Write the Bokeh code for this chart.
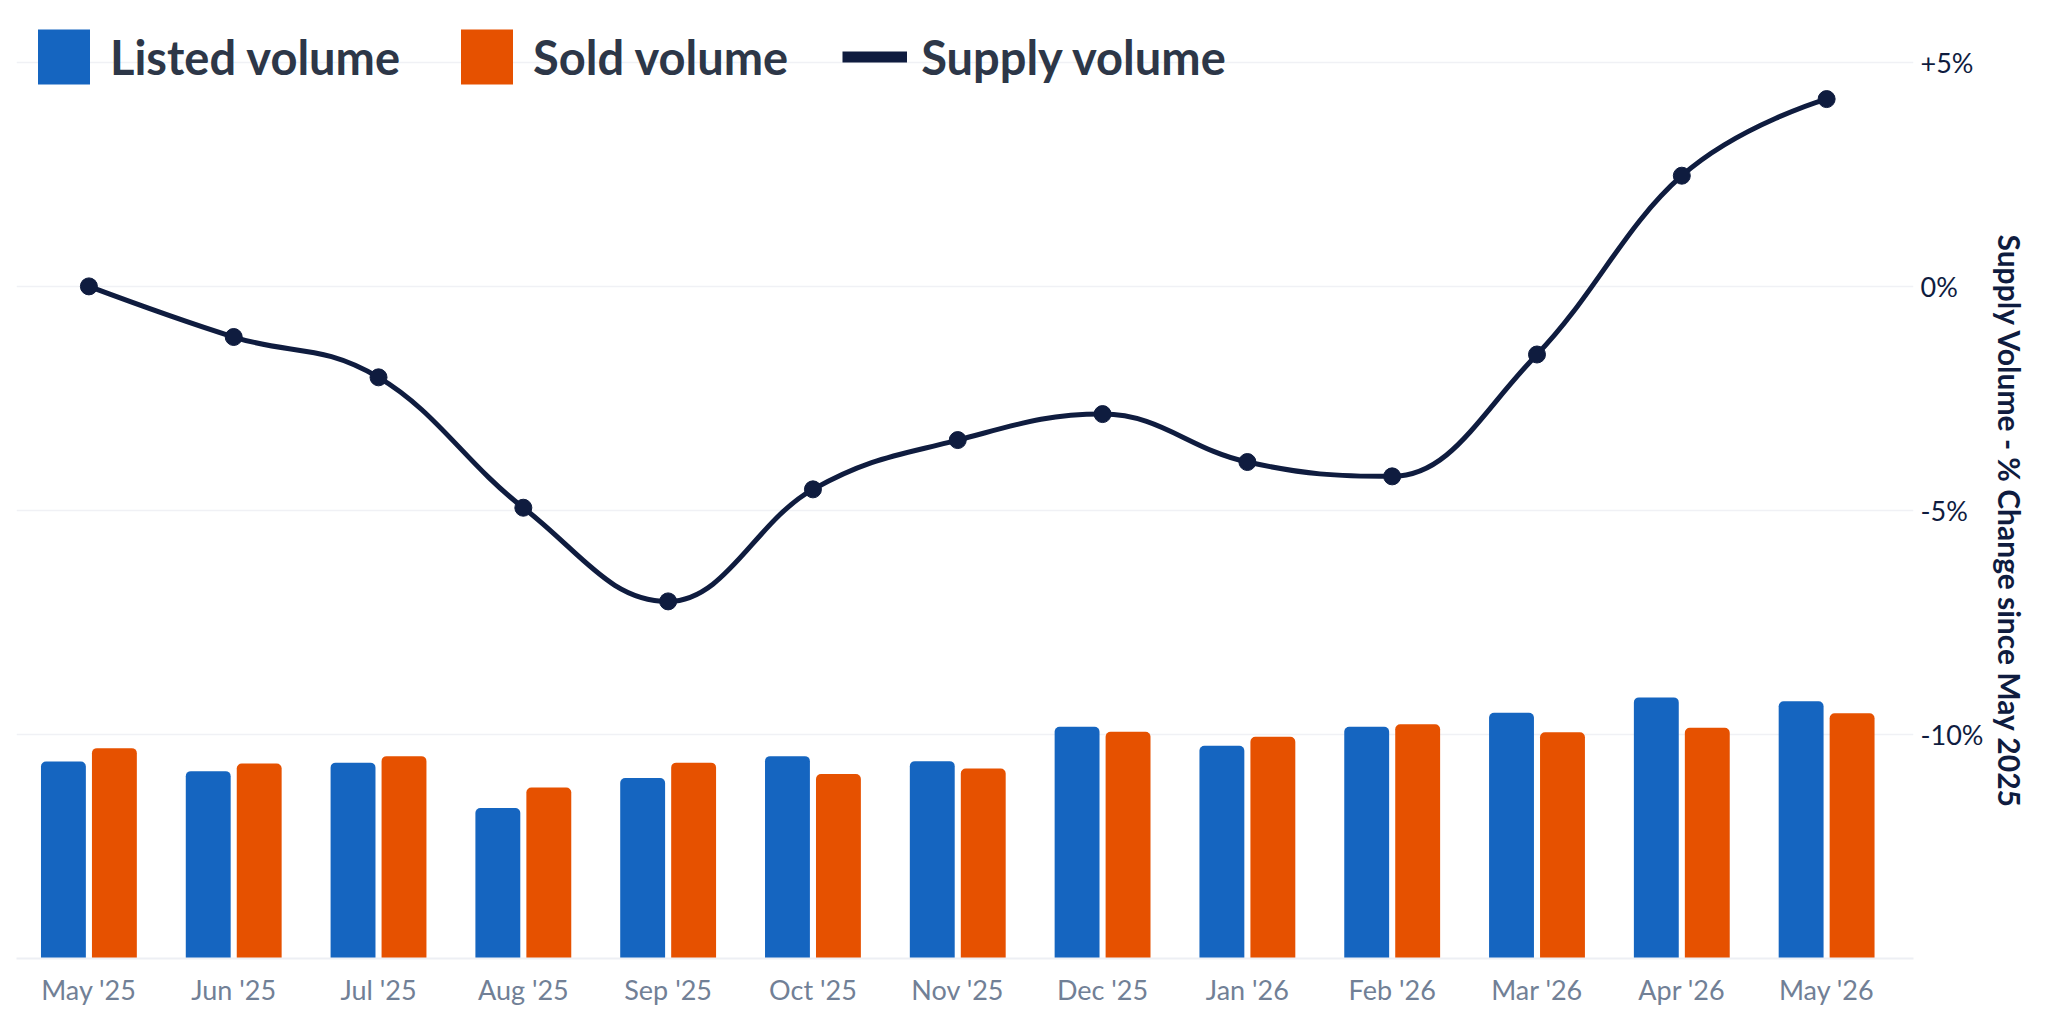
import numpy as np
from bokeh.plotting import figure
from bokeh.models import Range1d, FixedTicker, Legend, LegendItem, ColumnDataSource, Title
from bokeh.transform import dodge
from bokeh.embed import file_html
from bokeh.resources import INLINE

# ---- data ----
months = ["May '25", "Jun '25", "Jul '25", "Aug '25", "Sep '25", "Oct '25", "Nov '25",
          "Dec '25", "Jan '26", "Feb '26", "Mar '26", "Apr '26", "May '26"]
listed = [2090, 1989, 2079, 1598, 1915, 2148, 2095, 2460, 2259, 2460, 2608, 2772, 2730]
sold = [2233, 2069, 2148, 1815, 2079, 1958, 2016, 2407, 2354, 2487, 2402, 2450, 2603]
supply = [0.0, -1.13, -2.03, -4.94, -7.03, -4.53, -3.43, -2.85, -3.92, -4.24, -1.52, 2.47, 4.18]
y_ticks = [-10, -5, 0, 5]
y_tick_labels = ["-10%", "-5%", "0%", "+5%"]
axis_title = "Supply Volume - % Change since May 2025"

BLUE = "#1565C0"
ORANGE = "#E65100"
NAVY = "#0F1C3F"
FONT = "Lato"

xs = list(range(len(months)))

W, H = 2032, 1008
TOP, BOTTOM, LEFT, RIGHT = 16, 47, 16, 119

p = figure(width=W, height=H, output_backend="svg", toolbar_location=None,
           y_axis_location="right",
           x_range=Range1d(-0.5, 12.6), y_range=Range1d(-15, 6.023),
           min_border_left=LEFT, min_border_top=TOP, min_border_right=RIGHT,
           min_border_bottom=BOTTOM)
p.extra_y_ranges = {"bars": Range1d(0, 10000)}
p.outline_line_color = None
p.background_fill_color = "white"
p.border_fill_color = "white"

src = ColumnDataSource(dict(x=xs, listed=listed, sold=sold))
r_listed = p.vbar(x=dodge("x", -0.176), top="listed", width=0.31, source=src,
                  y_range_name="bars", fill_color=BLUE, line_color=None,
                  border_radius=(5, 5, 0, 0))
r_sold = p.vbar(x=dodge("x", 0.176), top="sold", width=0.31, source=src,
                y_range_name="bars", fill_color=ORANGE, line_color=None,
                border_radius=(5, 5, 0, 0))


def spline_segments(px_, py_, smoothing=1.5):
    denom = smoothing + 1
    n = len(px_)
    lc = [(px_[i], py_[i]) for i in range(n)]
    rc = [(px_[i], py_[i]) for i in range(n)]
    for i in range(1, n - 1):
        x, y = px_[i], py_[i]
        lx, ly = px_[i - 1], py_[i - 1]
        nx, ny = px_[i + 1], py_[i + 1]
        lcx = (smoothing * x + lx) / denom
        lcy = (smoothing * y + ly) / denom
        rcx = (smoothing * x + nx) / denom
        rcy = (smoothing * y + ny) / denom
        if rcx != lcx:
            corr = ((rcy - lcy) * (rcx - x)) / (rcx - lcx) + y - rcy
            lcy += corr
            rcy += corr
        if lcy > ly and lcy > y:
            lcy = max(ly, y); rcy = 2 * y - lcy
        elif lcy < ly and lcy < y:
            lcy = min(ly, y); rcy = 2 * y - lcy
        if rcy > ny and rcy > y:
            rcy = max(ny, y); lcy = 2 * y - rcy
        elif rcy < ny and rcy < y:
            rcy = min(ny, y); lcy = 2 * y - rcy
        lc[i] = (lcx, lcy)
        rc[i] = (rcx, rcy)
    seg = dict(x0=[], y0=[], x1=[], y1=[], cx0=[], cy0=[], cx1=[], cy1=[])
    for i in range(n - 1):
        seg["x0"].append(px_[i]); seg["y0"].append(py_[i])
        seg["x1"].append(px_[i + 1]); seg["y1"].append(py_[i + 1])
        seg["cx0"].append(rc[i][0]); seg["cy0"].append(rc[i][1])
        seg["cx1"].append(lc[i + 1][0]); seg["cy1"].append(lc[i + 1][1])
    return seg


seg = spline_segments(xs, supply)
p.bezier(x0="x0", y0="y0", x1="x1", y1="y1", cx0="cx0", cy0="cy0", cx1="cx1", cy1="cy1",
         source=ColumnDataSource(seg), line_color=NAVY, line_width=5)
p.scatter(xs, supply, size=17, fill_color=NAVY, line_color=NAVY)
# off-screen line used only as the legend swatch
r_leg_line = p.line(x=[0, 1], y=[1000, 1000], line_color=NAVY, line_width=11)

# axes
xa = p.xaxis[0]
xa.ticker = FixedTicker(ticks=xs)
xa.major_label_overrides = {i: m for i, m in enumerate(months)}
xa.major_tick_line_color = None
xa.major_tick_out = 0
xa.major_tick_in = 0
xa.minor_tick_line_color = None
xa.minor_tick_out = 0
xa.axis_line_color = "#EDEFF4"
xa.axis_line_width = 2
xa.major_label_standoff = 14
xa.major_label_text_font = FONT
xa.major_label_text_font_size = "27px"
xa.major_label_text_color = "#718096"

ya = p.yaxis[0]
ya.ticker = FixedTicker(ticks=y_ticks)
ya.major_label_overrides = {t: l for t, l in zip(y_ticks, y_tick_labels)}
ya.major_tick_line_color = None
ya.major_tick_out = 0
ya.major_tick_in = 0
ya.minor_tick_line_color = None
ya.minor_tick_out = 0
ya.axis_line_color = None
ya.major_label_standoff = 7
ya.major_label_text_font = FONT
ya.major_label_text_font_size = "27px"
ya.major_label_text_color = NAVY

# rotated right-side title, positioned so it is centred on the -15%..+5% span
p.add_layout(Title(text=axis_title, align="left", offset=218, vertical_align="middle",
                   text_font=FONT, text_font_style="bold", text_font_size="30px",
                   text_color=NAVY, standoff=8), "right")

p.xgrid.visible = False
p.ygrid.grid_line_color = "#F0F1F5"
p.ygrid.grid_line_width = 1.5

frame_h = H - TOP - BOTTOM
GLYPH_H = 69
legend = Legend(items=[LegendItem(label="Listed volume", renderers=[r_listed]),
                       LegendItem(label="Sold volume", renderers=[r_sold]),
                       LegendItem(label="Supply volume", renderers=[r_leg_line])],
                location=(15, frame_h - 9 - GLYPH_H), orientation="horizontal",
                glyph_width=65, glyph_height=GLYPH_H, label_standoff=14, spacing=54,
                padding=0, margin=0, background_fill_alpha=0, border_line_alpha=0,
                label_text_font=FONT, label_text_font_style="bold",
                label_text_font_size="47px", label_text_color="#2D3748")
p.add_layout(legend)

open("out.html", "w").write(file_html(p, INLINE))
